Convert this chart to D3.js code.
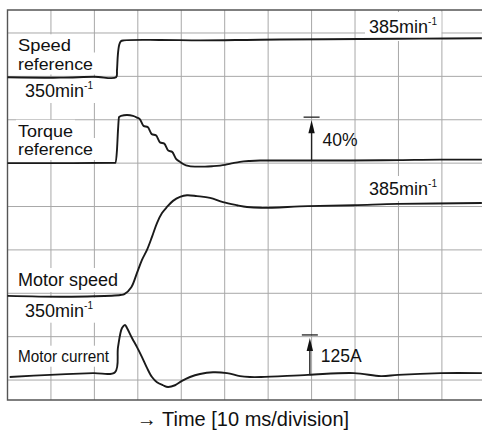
<!DOCTYPE html>
<html><head><meta charset="utf-8">
<script src="https://cdn.jsdelivr.net/npm/d3@7"></script>
<style>
body{margin:0;background:#fff;}
svg{display:block;font-family:"Liberation Sans",Arial,Helvetica,sans-serif;}
</style>
</head><body>
<svg id="c" width="482" height="430"></svg>
<script>
// time in ms (10 ms per division), level in screen divisions
const gridTimes = [10,20,30,40,50,60,70,80,90,100];
const gridLevels = [0,1,2,3,4,5,6,7,8];

const speedRef = [[0,6.98],[12.1,6.97],[20,6.99],[25.0,6.98],[25.2,7.14],[25.4,7.49],[25.7,7.72],[26.1,7.81],[26.8,7.83],[35,7.84],[44.3,7.83],[55,7.84],[62.7,7.85],[81.1,7.86],[95,7.87],[109.2,7.88]];

const torqueRef = [[0,5.00],[12.1,5.00],[24.9,5.01],[25.2,5.30],[25.44,5.76],[25.67,6.06],[26.13,6.09],[27.51,6.11],[28.89,6.09],[29.81,6.05],
  [30.5,6.01],[31.3,5.86],[32.3,5.83],[33.2,5.67],[34.2,5.64],[35.1,5.48],[36.1,5.45],[37.0,5.29],[37.9,5.26],[38.8,5.10],
  [39.7,5.03],[41.09,4.95],[43.16,4.92],[45.46,4.92],[47.31,4.93],[50.07,4.96],[51.91,5.00],
  [53.52,5.03],[55.82,5.05],[58.13,5.06],[67.33,5.06],[78.84,5.06],[90.35,5.07],[99.56,5.08],[109.2,5.08]];

const motorSpeed = [[0,1.94],[12.1,1.92],[20,1.93],[26.0,1.96],[26.9,1.98],[28.5,2.14],[29.81,2.47],[30.96,2.77],[32.11,3.00],[33.26,3.30],
  [34.41,3.62],[35.57,3.85],[36.72,3.99],[38.10,4.13],[39.71,4.22],[41.32,4.26],[43.62,4.24],[46.62,4.20],[49.61,4.10],[52.83,4.03],
  [55.13,3.99],[58.36,3.97],[69.18,4.01],[79.77,4.03],[89.9,4.06],[109.2,4.08]];

const motorCurrent = [[0.5,0.07],[9.78,0.12],[19.7,0.16],[24.75,0.18],[25.44,0.76],[26.36,1.20],[27.05,1.27],[27.51,1.20],[28.66,0.97],
  [29.81,0.76],[30.96,0.53],[32.11,0.28],[33.26,0.07],[34.41,-0.05],[35.80,-0.12],[36.95,-0.16],[38.56,-0.12],[40.17,-0.02],[42.01,0.07],
  [44.31,0.14],[47.31,0.18],[50.53,0.16],[53.52,0.09],[55.82,0.07],[58.36,0.07],[69.18,0.12],[79.77,0.16],[85.98,0.09],[89.9,0.12],
  [99.8,0.16],[109.2,0.16]];

// scale markers: time, from level, to level, label
const scaleMarkers = [{t:70, from:5.07, to:6.06, label:"40%"},{t:69.6, from:0.12, to:1.04, label:"125A"}];

const svg = d3.select("#c");
const W = 482;
const x = d3.scaleLinear().domain([0,110]).range([7.5, 7.5 + 110*4.344]);
const y = d3.scaleLinear().domain([-0.46, 8.53]).range([400, 10]);

// grid
const g = svg.append("g");
g.selectAll("line.v").data(gridTimes).join("line")
  .attr("x1", d=>x(d)).attr("x2", d=>x(d)).attr("y1", y(8.53)).attr("y2", y(-0.46))
  .attr("stroke", "#a8a8a8").attr("stroke-width", 1);
g.selectAll("line.h").data(gridLevels).join("line")
  .attr("x1", x(0)).attr("x2", W).attr("y1", d=>y(d)).attr("y2", d=>y(d))
  .attr("stroke", "#a8a8a8").attr("stroke-width", 1);

// frame
svg.append("path")
  .attr("d", `M${W},${y(8.53)}H${x(0)}V${y(-0.46)}H${W}`)
  .attr("fill","none").attr("stroke","#555").attr("stroke-width",1.4);

// labels
const labelLayer = svg.append("g");
const bgLayer = labelLayer.append("g");
const txtLayer = labelLayer.append("g");

function addLabel(parts, px, py, size, opts={}) {
  const t = txtLayer.append("text").attr("x", px).attr("y", py)
    .attr("font-size", size).attr("fill", "#111");
  if (Array.isArray(parts)) {
    t.append("tspan").text(parts[0]);
    t.append("tspan").attr("font-size", 10).attr("dy", -8).text(parts[1]);
  } else t.text(parts);
  if (opts.len) t.attr("textLength", opts.len).attr("lengthAdjust", "spacingAndGlyphs");
  const b = t.node().getBBox();
  const p = opts.pad || 2;
  bgLayer.append("rect").attr("x", b.x - p).attr("y", b.y - p)
    .attr("width", b.width + 2*p).attr("height", b.height + 2*p).attr("fill", "#fff");
  return t;
}

addLabel("Speed", 18, 51.3, 16.5, {len: 53, pad: 0});
addLabel("reference", 18, 69.5, 16.5, {len: 75, pad: 0});
addLabel(["350min","-1"], 25, 97, 18);
addLabel("Torque", 18, 136.8, 16.5, {len: 55, pad: 0});
addLabel("reference", 18, 155, 16.5, {len: 75, pad: 0});
addLabel(["385min","-1"], 369, 33, 18, {pad:4});
addLabel("Motor speed", 18, 286, 18);
addLabel(["350min","-1"], 25, 316.7, 18);
addLabel(["385min","-1"], 369, 195, 18);
addLabel("Motor current", 18, 361.7, 16, {len: 91});

// traces
const lineCR = d3.line().x(d=>x(d[0])).y(d=>y(d[1])).curve(d3.curveCatmullRom.alpha(0.5));
const lineMono = d3.line().x(d=>x(d[0])).y(d=>y(d[1])).curve(d3.curveMonotoneX);
[[speedRef, lineCR], [torqueRef, lineMono], [motorSpeed, lineCR], [motorCurrent, lineCR]].forEach(([s, gen]) => {
  svg.append("path").attr("d", gen(s)).attr("fill","none")
    .attr("stroke","#1a1a1a").attr("stroke-width",1.9).attr("stroke-linejoin","round");
});

// scale markers
scaleMarkers.forEach(m => {
  const mx = x(m.t), top = y(m.to), bot = y(m.from);
  svg.append("line").attr("x1", mx-8).attr("x2", mx+8).attr("y1", top).attr("y2", top)
    .attr("stroke","#222").attr("stroke-width",1.3);
  svg.append("line").attr("x1", mx).attr("x2", mx).attr("y1", top+14).attr("y2", bot)
    .attr("stroke","#222").attr("stroke-width",1.4);
  svg.append("path").attr("d", `M${mx},${top+3}L${mx+3.2},${top+16}L${mx-3.2},${top+16}Z`).attr("fill","#111");
  svg.append("text").attr("x", mx+11).attr("y", (top+bot)/2 + 7)
    .attr("font-size", 17.5).attr("fill","#111").text(m.label);
});

// axis title
svg.append("text").attr("x", 243).attr("y", 426).attr("text-anchor","middle")
  .attr("font-size", 20).attr("fill","#111").text("\u2192 Time [10 ms/division]");
</script>
</body></html>
